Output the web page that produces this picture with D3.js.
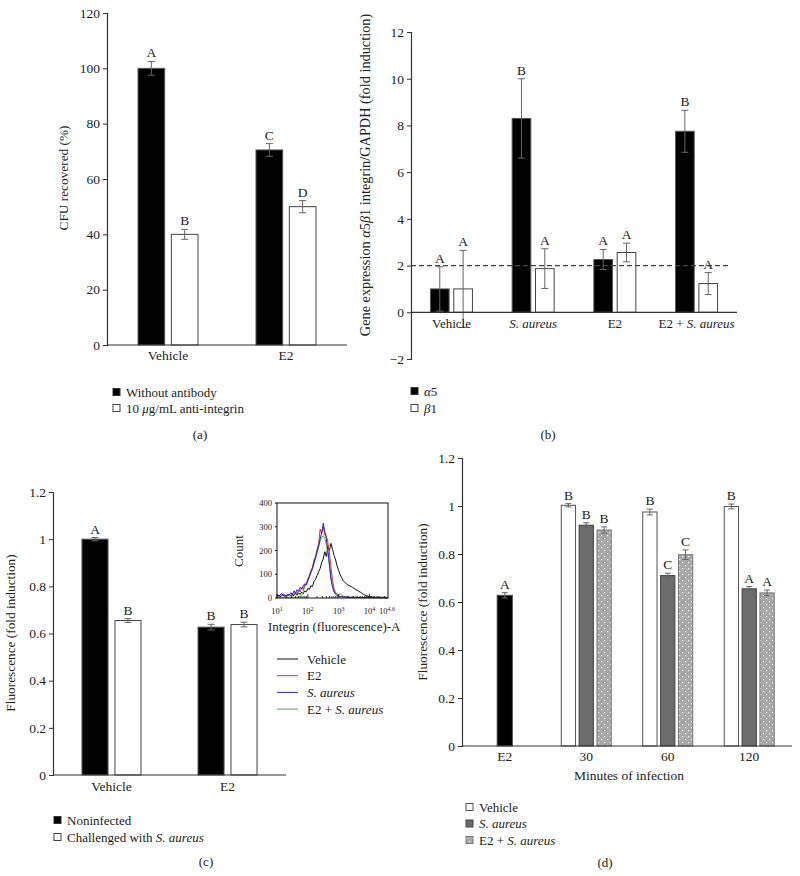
<!DOCTYPE html>
<html><head><meta charset="utf-8">
<script src="https://cdn.jsdelivr.net/npm/d3@7"></script>
<style>
body{margin:0;background:#fff;}
text{font-family:"Liberation Serif","DejaVu Serif",serif;fill:#222;}
</style></head>
<body>
<svg id="c" width="800" height="876"></svg>
<script>
// ---------- DATA ----------
// (a)
const aCats = ["Vehicle","E2"];
const aSeries = ["Without antibody","10 μg/mL anti-integrin"];
const aVals = [[100,40],[70.5,50]];
const aErr = [[2.5,1.8],[2.3,2.2]];
const aLetters = [["A","B"],["C","D"]];
const aTicks = [0,20,40,60,80,100,120];
// (b)
const bCats = ["Vehicle","S. aureus","E2","E2 + S. aureus"];
const bItalic = [false,true,false,"mixed"];
const bSeries = ["α5","β1"];
const bVals = [[1.0,1.0],[8.3,1.87],[2.26,2.56],[7.75,1.23]];
const bErr = [[0.95,1.65],[1.7,0.85],[0.43,0.4],[0.9,0.47]];
const bLetters = [["A","A"],["B","A"],["A","A"],["B","A"]];
const bTicks = [-2,0,2,4,6,8,10,12];
const bRef = 2;
// (c)
const cCats = ["Vehicle","E2"];
const cSeries = ["Noninfected","Challenged with S. aureus"];
const cVals = [[1.0,0.655],[0.627,0.638]];
const cErr = [[0.007,0.008],[0.012,0.01]];
const cLetters = [["A","B"],["B","B"]];
const cTicks = [0,0.2,0.4,0.6,0.8,1,1.2];
// (c) inset histogram (log10 fluorescence, counts)
const histLog = d3.range(0,73).map(i=>+(1+i*0.05).toFixed(2));
const histVehicle = [8,12,5,10,14,6,11,9,15,7,12,10,18,12,22,15,25,18,30,26,40,36,52,48,70,78,95,110,125,150,165,195,175,215,200,230,205,180,160,135,115,98,85,72,66,60,55,52,48,45,40,36,32,28,25,20,16,12,10,8,6,7,4,6,3,5,2,4,3,2,4,2,3];
const histE2 = [12,6,14,9,18,8,12,10,16,9,20,14,26,18,34,25,42,36,55,62,80,95,115,130,160,175,205,230,290,270,300,265,262,235,190,130,75,40,22,14,9,6,5,4,5,3,4,3,2,3,2,3,2,2,3,2,2,3,2,2,1,2,2,1,2,1,2,1,1,2,1,1,2];
const histSA = [15,8,12,20,10,14,8,16,12,22,14,30,20,35,28,45,38,50,60,55,75,90,110,125,150,170,195,220,250,275,315,280,250,200,140,80,45,25,15,10,8,5,6,4,5,3,4,3,3,4,2,3,3,2,3,2,2,3,2,2,2,3,1,2,2,1,2,2,1,2,1,1,2];
const histE2SA = [3,2,3,2,4,2,3,2,3,2,4,3,4,3,5,6,10,28,48,58,70,88,105,120,145,165,190,215,240,255,262,250,225,185,140,90,55,30,22,18,15,17,12,8,6,5,4,3,3,2,3,2,2,2,1,2,2,1,2,1,1,2,1,1,1,2,1,1,1,1,1,1,1];
const histSeries = ["Vehicle","E2","S. aureus","E2 + S. aureus"];
const histColors = ["#111","#e0312a","#2323c8","#4caf3c"];
const histYTicks = [0,100,200,300,400];
const histXTicks = [1,2,3,4,4.6];
// (d)
const dCats = ["E2","30","60","120"];
const dSeries = ["Vehicle","S. aureus","E2 + S. aureus"];
const dE2Val = 0.628, dE2Err = 0.011, dE2Letter = "A";
const dVals = [[1.003,0.92,0.90],[0.975,0.71,0.797],[0.998,0.655,0.638]];
const dErr = [[0.007,0.01,0.013],[0.012,0.01,0.02],[0.01,0.009,0.012]];
const dLetters = [["B","B","B"],["B","C","C"],["B","A","A"]];
const dTicks = [0,0.2,0.4,0.6,0.8,1,1.2];

// ---------- DRAW ----------
const svg = d3.select("#c");
const defs = svg.append("defs");
const pat = defs.append("pattern").attr("id","dots").attr("patternUnits","userSpaceOnUse")
  .attr("width",6).attr("height",6);
pat.append("rect").attr("width",6).attr("height",6).attr("fill","#a8a8a8");
pat.append("rect").attr("x",1).attr("y",1).attr("width",1.2).attr("height",1.2).attr("fill","#f4f4f4");
pat.append("rect").attr("x",4).attr("y",4).attr("width",1.2).attr("height",1.2).attr("fill","#f4f4f4");

const FS = 13;
const axisCol = "#333", errCol = "#666";
const fmtNum = d => d<0 ? "\u2212"+Math.abs(d) : String(d);

function yAxis(g, y, ticks, x0){
  const ax = d3.axisLeft(y).tickValues(ticks).tickSize(4).tickFormat(fmtNum);
  const a = g.append("g").attr("transform",`translate(${x0},0)`).call(ax);
  a.select(".domain").attr("stroke",axisCol).attr("stroke-width",1.2);
  a.selectAll(".tick line").attr("stroke",axisCol);
  a.selectAll(".tick text").attr("font-size",13.5).attr("font-family","Liberation Serif").attr("fill","#222").attr("x",-7);
  return a;
}
function xLine(g, x1, x2, y0){
  g.append("line").attr("x1",x1).attr("x2",x2).attr("y1",y0).attr("y2",y0).attr("stroke",axisCol).attr("stroke-width",1.2);
}
function errBar(g, cx, y, v, e, cap){
  const t=y(v+e), b=y(v-e);
  g.append("line").attr("x1",cx).attr("x2",cx).attr("y1",t).attr("y2",b).attr("stroke",errCol).attr("stroke-width",1);
  [t,b].forEach(yy=>g.append("line").attr("x1",cx-cap).attr("x2",cx+cap).attr("y1",yy).attr("y2",yy).attr("stroke",errCol).attr("stroke-width",1));
}
function letter(g, cx, yTop, s){
  g.append("text").attr("x",cx).attr("y",yTop-4).attr("text-anchor","middle").attr("font-size",13.5).text(s);
}
function yTitle(g, x, yc, build, fs){
  const t = g.append("text").attr("transform",`translate(${x},${yc}) rotate(-90)`).attr("text-anchor","middle").attr("font-size",fs||FS);
  build(t);
}
function panelLabel(x,y,s){
  svg.append("text").attr("x",x).attr("y",y).attr("text-anchor","middle").attr("font-size",13).text(s);
}
function legendSq(g, x, yc, fill, stroke){
  g.append("rect").attr("x",x).attr("y",yc-3.5).attr("width",7).attr("height",7).attr("fill",fill).attr("stroke",stroke).attr("stroke-width",1);
  return g.append("text").attr("x",x+13).attr("y",yc+4.5).attr("font-size",FS);
}
function catText(t, s, mode){
  if(mode===true) t.attr("font-style","italic").text(s);
  else if(mode==="mixed"){ t.append("tspan").text("E2 + "); t.append("tspan").attr("font-style","italic").text("S. aureus"); }
  else t.text(s);
}

// ===== Panel (a) =====
{
  const g = svg.append("g");
  const y = d3.scaleLinear().domain([0,120]).range([345,13]);
  const x = d3.scalePoint().domain(aCats).range([107,347]).padding(0.517);
  const xi = d3.scaleBand().domain(aSeries).range([-30,30]).paddingInner(0.2);
  aCats.forEach((c,i)=>{
    aSeries.forEach((s,j)=>{
      const bx = x(c)+xi(s);
      g.append("rect").attr("x",bx).attr("y",y(aVals[i][j])).attr("width",xi.bandwidth()).attr("height",y(0)-y(aVals[i][j]))
        .attr("fill", j===0?"#000":"#fff").attr("stroke", j===0?"#555":"#444").attr("stroke-width",1);
      const cx = bx+xi.bandwidth()/2;
      errBar(g,cx,y,aVals[i][j],aErr[i][j],3.5);
      letter(g,cx,y(aVals[i][j]+aErr[i][j]),aLetters[i][j]);
    });
    g.append("text").attr("x",x(c)).attr("y",360).attr("text-anchor","middle").attr("font-size",13.5).text(c);
  });
  yAxis(g,y,aTicks,107);
  xLine(g,107,347,y(0));
  yTitle(g,68,178,t=>t.text("CFU recovered (%)"),13.3);
  legendSq(g,113,392,"#000","#333").text(aSeries[0]);
  const t2 = legendSq(g,113,408,"#fff","#444");
  t2.append("tspan").text("10 ");
  t2.append("tspan").attr("font-style","italic").text("μ");
  t2.append("tspan").text("g/mL anti-integrin");
  panelLabel(200,439,"(a)");
}

// ===== Panel (b) =====
{
  const g = svg.append("g");
  const y = d3.scaleLinear().domain([-2,12]).range([359,32]);
  const x = d3.scalePoint().domain(bCats).range([411,737]).padding(0.495);
  const xi = d3.scaleBand().domain(bSeries).range([-21,21]).paddingInner(0.2);
  bCats.forEach((c,i)=>{
    bSeries.forEach((s,j)=>{
      const bx = x(c)+xi(s);
      g.append("rect").attr("x",bx).attr("y",y(bVals[i][j])).attr("width",xi.bandwidth()).attr("height",y(0)-y(bVals[i][j]))
        .attr("fill", j===0?"#000":"#fff").attr("stroke", j===0?"#555":"#444").attr("stroke-width",1);
    });
  });
  g.append("line").attr("x1",411).attr("x2",728).attr("y1",y(bRef)).attr("y2",y(bRef))
    .attr("stroke","#444").attr("stroke-width",1.2).attr("stroke-dasharray","5,3");
  bCats.forEach((c,i)=>{
    bSeries.forEach((s,j)=>{
      const cx = x(c)+xi(s)+xi.bandwidth()/2;
      errBar(g,cx,y,bVals[i][j],bErr[i][j],3.5);
      letter(g,cx,y(bVals[i][j]+bErr[i][j]),bLetters[i][j]);
    });
    const t = g.append("text").attr("x",x(c)).attr("y",328).attr("text-anchor","middle").attr("font-size",FS);
    catText(t,c,bItalic[i]);
  });
  yAxis(g,y,bTicks,411);
  xLine(g,411,737,y(0));
  yTitle(g,370,175,t=>{
    t.append("tspan").text("Gene expression ");
    t.append("tspan").attr("font-style","italic").text("α");
    t.append("tspan").text("5");
    t.append("tspan").attr("font-style","italic").text("β");
    t.append("tspan").text("1 integrin/GAPDH (fold induction)");
  },14.3);
  const l1 = legendSq(g,411,391,"#000","#333");
  l1.append("tspan").attr("font-style","italic").text("α"); l1.append("tspan").text("5");
  const l2 = legendSq(g,411,408,"#fff","#444");
  l2.append("tspan").attr("font-style","italic").text("β"); l2.append("tspan").text("1");
  panelLabel(548,439,"(b)");
}

// ===== Panel (c) =====
{
  const g = svg.append("g");
  const y = d3.scaleLinear().domain([0,1.2]).range([775,492]);
  const x = d3.scalePoint().domain(cCats).range([53,286]).padding(0.504);
  const xi = d3.scaleBand().domain(cSeries).range([-29.5,29.5]).paddingInner(0.21);
  cCats.forEach((c,i)=>{
    cSeries.forEach((s,j)=>{
      const bx = x(c)+xi(s);
      g.append("rect").attr("x",bx).attr("y",y(cVals[i][j])).attr("width",xi.bandwidth()).attr("height",y(0)-y(cVals[i][j]))
        .attr("fill", j===0?"#000":"#fff").attr("stroke", j===0?"#555":"#444").attr("stroke-width",1);
      const cx = bx+xi.bandwidth()/2;
      errBar(g,cx,y,cVals[i][j],cErr[i][j],3.5);
      letter(g,cx,y(cVals[i][j]+cErr[i][j]),cLetters[i][j]);
    });
    g.append("text").attr("x",x(c)).attr("y",791).attr("text-anchor","middle").attr("font-size",13.5).text(c);
  });
  yAxis(g,y,cTicks,53);
  xLine(g,53,286,y(0));
  yTitle(g,15,633,t=>t.text("Fluorescence (fold induction)"),13.3);
  legendSq(g,54,820,"#000","#333").text(cSeries[0]);
  const t2 = legendSq(g,54,837,"#fff","#444");
  t2.append("tspan").text("Challenged with ");
  t2.append("tspan").attr("font-style","italic").text("S. aureus");
  panelLabel(206,866,"(c)");

  // inset
  const ix = d3.scaleLog().domain([10,Math.pow(10,4.6)]).range([277,388]);
  const iy = d3.scaleLinear().domain([0,400]).range([598,503]);
  const ig = svg.append("g");
  const line = d3.line().x((d,k)=>ix(Math.pow(10,histLog[k]))).y(d=>iy(d));
  [histVehicle,histE2SA,histE2,histSA].forEach((arr,k)=>{
    const colIdx = [0,3,1,2][k];
    ig.append("path").datum(arr).attr("d",line).attr("fill","none").attr("stroke",histColors[colIdx]).attr("stroke-width",1);
  });
  ig.append("rect").attr("x",277).attr("y",503).attr("width",111).attr("height",95).attr("fill","none").attr("stroke","#111").attr("stroke-width",1);
  histYTicks.forEach(v=>{
    ig.append("line").attr("x1",275).attr("x2",277).attr("y1",iy(v)).attr("y2",iy(v)).attr("stroke","#111");
    ig.append("text").attr("x",272).attr("y",iy(v)+3).attr("text-anchor","end").attr("font-size",8.5).text(v);
  });
  for(let dec=1; dec<=4; dec++){
    for(let m=1;m<=9;m++){
      const v = m*Math.pow(10,dec);
      if(v>Math.pow(10,4.6)) break;
      ig.append("line").attr("x1",ix(v)).attr("x2",ix(v)).attr("y1",598).attr("y2",m===1?594:596).attr("stroke","#111").attr("stroke-width",0.8);
    }
  }
  histXTicks.forEach(p=>{
    const t = ig.append("text").attr("x",ix(Math.pow(10,p))-(p===4.6?1:0)).attr("y",614).attr("text-anchor","middle").attr("font-size",8.5);
    t.append("tspan").text("10");
    t.append("tspan").attr("dy",-3.5).attr("font-size",6).text(String(p));
  });
  ig.append("text").attr("transform","translate(243,551) rotate(-90)").attr("text-anchor","middle").attr("font-size",13).text("Count");
  ig.append("text").attr("x",268).attr("y",631).attr("font-size",13).text("Integrin (fluorescence)-A");
  histSeries.forEach((s,k)=>{
    const yy = 659 + k*16.7;
    ig.append("line").attr("x1",277).attr("x2",298).attr("y1",yy).attr("y2",yy).attr("stroke",histColors[k]).attr("stroke-width",1);
    const t = ig.append("text").attr("x",307).attr("y",yy+4.5).attr("font-size",FS);
    catText(t,s, s==="S. aureus"?true:(s==="E2 + S. aureus"?"mixed":false));
  });
}

// ===== Panel (d) =====
{
  const g = svg.append("g");
  const y = d3.scaleLinear().domain([0,1.2]).range([746,458]);
  const x = d3.scalePoint().domain(dCats).range([462,792]).padding(0.525);
  const xi = d3.scaleBand().domain(dSeries).range([-25,25]).paddingInner(0.2);
  const fills = ["#fff","#6c6c6c","url(#dots)"];
  const strokes = ["#555","#444","#777"];
  {
    const bw = xi.bandwidth()+1, bx = x("E2")-bw/2;
    g.append("rect").attr("x",bx).attr("y",y(dE2Val)).attr("width",bw).attr("height",y(0)-y(dE2Val)).attr("fill","#000").attr("stroke","#555");
    errBar(g,x("E2"),y,dE2Val,dE2Err,3);
    letter(g,x("E2"),y(dE2Val+dE2Err),dE2Letter);
  }
  dCats.slice(1).forEach((c,i)=>{
    dSeries.forEach((s,j)=>{
      const bx = x(c)+xi(s);
      g.append("rect").attr("x",bx).attr("y",y(dVals[i][j])).attr("width",xi.bandwidth()).attr("height",y(0)-y(dVals[i][j]))
        .attr("fill",fills[j]).attr("stroke",strokes[j]).attr("stroke-width",1);
      const cx = bx+xi.bandwidth()/2;
      errBar(g,cx,y,dVals[i][j],dErr[i][j],3);
      letter(g,cx,y(dVals[i][j]+dErr[i][j]),dLetters[i][j]);
    });
  });
  dCats.forEach(c=>g.append("text").attr("x",x(c)).attr("y",761).attr("text-anchor","middle").attr("font-size",13.5).text(c));
  yAxis(g,y,dTicks,462);
  xLine(g,462,792,y(0));
  g.append("text").attr("x",629).attr("y",780).attr("text-anchor","middle").attr("font-size",13.5).text("Minutes of infection");
  yTitle(g,427,602,t=>t.text("Fluorescence (fold induction)"),13.3);
  dSeries.forEach((s,j)=>{
    const t = legendSq(g,466,807+j*16.5,fills[j],strokes[j]);
    catText(t,s, s==="S. aureus"?true:(s==="E2 + S. aureus"?"mixed":false));
  });
  panelLabel(605,867,"(d)");
}
</script>
</body></html>
